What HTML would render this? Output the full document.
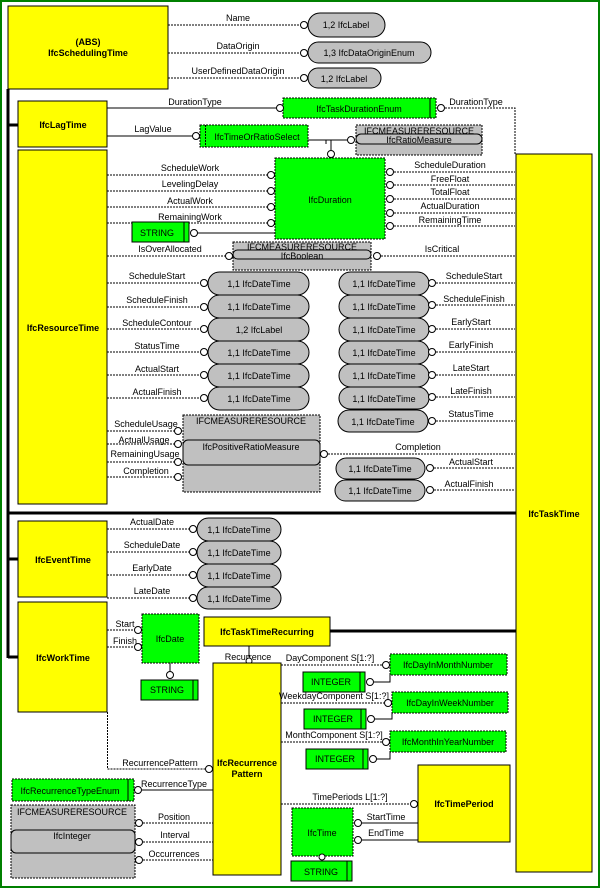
<!DOCTYPE html>
<html><head><meta charset="utf-8"><style>
html,body{margin:0;padding:0;background:#fff}
svg{display:block}
text{font-family:"Liberation Sans",Arial,sans-serif;font-size:9px;fill:#000}
.b{font-weight:bold}
.y{fill:#ffff00;stroke:#000;stroke-width:1}
.g{fill:#00ff00;stroke:#000;stroke-width:1;stroke-dasharray:2,1}
.gs{fill:#00ff00;stroke:#000;stroke-width:1}
.p{fill:#c0c0c0;stroke:#000;stroke-width:1}
.m{fill:#c0c0c0;stroke:#000;stroke-width:1;stroke-dasharray:2,1}
.d{stroke:#000;stroke-width:1;stroke-dasharray:2,1;fill:none}
.s{stroke:#000;stroke-width:1;fill:none}
.t{stroke:#000;stroke-width:3;fill:none}
circle{fill:#fff;stroke:#000;stroke-width:1}
</style></head><body>
<svg width="600" height="888" viewBox="0 0 600 888" xmlns="http://www.w3.org/2000/svg">
<rect x="1" y="1" width="598" height="886" fill="#fff" stroke="#008000" stroke-width="2"/>

<!-- thick inheritance tree -->
<path class="t" d="M8 89 V658"/>
<path class="t" d="M8 125 H18 M8 513 H516 M8 559 H18 M8 657 H18 M330 631 H516"/>

<!-- IfcSchedulingTime -->
<rect class="y" x="8" y="6" width="160" height="83"/>
<text class="b" x="88" y="45" text-anchor="middle">(ABS)</text>
<text class="b" x="88" y="56" text-anchor="middle">IfcSchedulingTime</text>
<path class="d" d="M168 25 H302 M168 53 H302 M168 78 H302"/>
<text x="238" y="21" text-anchor="middle">Name</text>
<text x="238" y="49" text-anchor="middle">DataOrigin</text>
<text x="238" y="74" text-anchor="middle">UserDefinedDataOrigin</text>
<rect class="p" x="308" y="13" width="77" height="24" rx="12"/><text x="346" y="28" text-anchor="middle">1,2 IfcLabel</text>
<rect class="p" x="308" y="42" width="123" height="21" rx="10.5"/><text x="369" y="56" text-anchor="middle">1,3 IfcDataOriginEnum</text>
<rect class="p" x="308" y="68" width="73" height="20" rx="10"/><text x="344" y="82" text-anchor="middle">1,2 IfcLabel</text>
<circle cx="304" cy="25" r="3.5"/><circle cx="304" cy="53" r="3.5"/><circle cx="304" cy="78" r="3.5"/>

<!-- IfcLagTime -->
<rect class="y" x="18" y="101" width="89" height="46"/>
<text class="b" x="63" y="128" text-anchor="middle">IfcLagTime</text>
<path class="s" d="M107 108 H277 M107 136 H193"/>
<text x="195" y="105" text-anchor="middle">DurationType</text>
<text x="153" y="132" text-anchor="middle">LagValue</text>
<rect class="g" x="283" y="98" width="153" height="20"/><path class="s" d="M430 98 V118"/>
<text x="359" y="112" text-anchor="middle">IfcTaskDurationEnum</text>
<circle cx="280" cy="108" r="3.5"/>
<path class="d" d="M445 108 H515 V154"/>
<circle cx="441" cy="108" r="3.5"/>
<text x="476" y="105" text-anchor="middle">DurationType</text>
<rect class="g" x="200" y="125" width="108" height="22"/><path class="d" d="M205.5 125 V147"/>
<text x="257" y="140" text-anchor="middle">IfcTimeOrRatioSelect</text>
<circle cx="196" cy="136" r="3.5"/>
<path class="s" d="M308 140 H347 M331 140 V150 M326 140 V144"/>
<rect class="m" x="356" y="125" width="126" height="30"/>
<text x="419" y="134" text-anchor="middle">IFCMEASURERESOURCE</text>
<rect class="p" x="356" y="134" width="126" height="10" rx="5"/>
<text x="419" y="143" text-anchor="middle">IfcRatioMeasure</text>
<circle cx="351" cy="140" r="3.5"/>
<circle cx="331" cy="154" r="3.5"/>

<!-- IfcDuration -->
<rect class="g" x="275" y="158" width="110" height="81"/>
<text x="330" y="203" text-anchor="middle">IfcDuration</text>
<path class="d" d="M107 175 H267 M107 191 H267 M107 207 H267 M107 223 H267"/>
<text x="190" y="171" text-anchor="middle">ScheduleWork</text>
<text x="190" y="187" text-anchor="middle">LevelingDelay</text>
<text x="190" y="204" text-anchor="middle">ActualWork</text>
<text x="190" y="220" text-anchor="middle">RemainingWork</text>
<circle cx="271" cy="175" r="3.5"/><circle cx="271" cy="191" r="3.5"/><circle cx="271" cy="207" r="3.5"/><circle cx="271" cy="223" r="3.5"/>
<rect class="gs" x="132" y="222" width="57" height="20"/><path class="s" d="M184 222 V242"/>
<text x="157" y="236" text-anchor="middle">STRING</text>
<path class="s" d="M197 233 H275"/><circle cx="194" cy="233" r="3.5"/>
<path class="d" d="M394 172 H515 M394 185 H515 M394 199 H515 M394 213 H515 M394 226 H515"/>
<circle cx="390" cy="172" r="3.5"/><circle cx="390" cy="185" r="3.5"/><circle cx="390" cy="199" r="3.5"/><circle cx="390" cy="213" r="3.5"/><circle cx="390" cy="226" r="3.5"/>
<text x="450" y="168" text-anchor="middle">ScheduleDuration</text>
<text x="450" y="182" text-anchor="middle">FreeFloat</text>
<text x="450" y="195" text-anchor="middle">TotalFloat</text>
<text x="450" y="209" text-anchor="middle">ActualDuration</text>
<text x="450" y="223" text-anchor="middle">RemainingTime</text>

<!-- IfcResourceTime -->
<rect class="y" x="18" y="150" width="89" height="354"/>
<text class="b" x="63" y="331" text-anchor="middle">IfcResourceTime</text>

<!-- IfcTaskTime -->
<rect class="y" x="516" y="154" width="76" height="718"/>
<text class="b" x="554" y="517" text-anchor="middle">IfcTaskTime</text>

<!-- IfcBoolean -->
<rect class="m" x="233" y="242" width="138" height="28"/>
<text x="302" y="250" text-anchor="middle">IFCMEASURERESOURCE</text>
<rect class="p" x="233" y="250" width="138" height="9" rx="4.5"/>
<text x="302" y="259" text-anchor="middle">IfcBoolean</text>
<path class="d" d="M107 256 H226 M381 256 H515"/>
<circle cx="229" cy="256" r="3.5"/><circle cx="377" cy="256" r="3.5"/>
<text x="170" y="252" text-anchor="middle">IsOverAllocated</text>
<text x="442" y="252" text-anchor="middle">IsCritical</text>

<!-- left datetime pills -->
<path class="d" d="M107 283 H200 M107 307 H200 M107 329 H200 M107 352 H200 M107 375 H200 M107 398 H200"/>
<text x="157" y="279" text-anchor="middle">ScheduleStart</text>
<text x="157" y="303" text-anchor="middle">ScheduleFinish</text>
<text x="157" y="326" text-anchor="middle">ScheduleContour</text>
<text x="157" y="349" text-anchor="middle">StatusTime</text>
<text x="157" y="372" text-anchor="middle">ActualStart</text>
<text x="157" y="395" text-anchor="middle">ActualFinish</text>
<rect class="p" x="208" y="272" width="101" height="23" rx="11.5"/><text x="259" y="287" text-anchor="middle">1,1 IfcDateTime</text>
<rect class="p" x="208" y="295" width="101" height="23" rx="11.5"/><text x="259" y="310" text-anchor="middle">1,1 IfcDateTime</text>
<rect class="p" x="208" y="318" width="101" height="23" rx="11.5"/><text x="259" y="333" text-anchor="middle">1,2 IfcLabel</text>
<rect class="p" x="208" y="341" width="101" height="23" rx="11.5"/><text x="259" y="356" text-anchor="middle">1,1 IfcDateTime</text>
<rect class="p" x="208" y="364" width="101" height="23" rx="11.5"/><text x="259" y="379" text-anchor="middle">1,1 IfcDateTime</text>
<rect class="p" x="208" y="387" width="101" height="23" rx="11.5"/><text x="259" y="402" text-anchor="middle">1,1 IfcDateTime</text>
<circle cx="204" cy="283" r="3.5"/><circle cx="204" cy="307" r="3.5"/><circle cx="204" cy="329" r="3.5"/><circle cx="204" cy="352" r="3.5"/><circle cx="204" cy="375" r="3.5"/><circle cx="204" cy="398" r="3.5"/>

<!-- right datetime pills -->
<path class="d" d="M436 283 H515 M436 305 H515 M436 329 H515 M436 352 H515 M436 375 H515 M436 397 H515 M436 421 H515"/>
<text x="474" y="279" text-anchor="middle">ScheduleStart</text>
<text x="474" y="302" text-anchor="middle">ScheduleFinish</text>
<text x="471" y="325" text-anchor="middle">EarlyStart</text>
<text x="471" y="348" text-anchor="middle">EarlyFinish</text>
<text x="471" y="371" text-anchor="middle">LateStart</text>
<text x="471" y="394" text-anchor="middle">LateFinish</text>
<text x="471" y="417" text-anchor="middle">StatusTime</text>
<rect class="p" x="339" y="272" width="90" height="23" rx="11.5"/><text x="384" y="287" text-anchor="middle">1,1 IfcDateTime</text>
<rect class="p" x="339" y="295" width="90" height="23" rx="11.5"/><text x="384" y="310" text-anchor="middle">1,1 IfcDateTime</text>
<rect class="p" x="339" y="318" width="90" height="23" rx="11.5"/><text x="384" y="333" text-anchor="middle">1,1 IfcDateTime</text>
<rect class="p" x="339" y="341" width="90" height="23" rx="11.5"/><text x="384" y="356" text-anchor="middle">1,1 IfcDateTime</text>
<rect class="p" x="339" y="364" width="90" height="23" rx="11.5"/><text x="384" y="379" text-anchor="middle">1,1 IfcDateTime</text>
<rect class="p" x="339" y="387" width="90" height="22" rx="11"/><text x="384" y="402" text-anchor="middle">1,1 IfcDateTime</text>
<rect class="p" x="338" y="410" width="90" height="22" rx="11"/><text x="383" y="425" text-anchor="middle">1,1 IfcDateTime</text>
<circle cx="432" cy="283" r="3.5"/><circle cx="432" cy="305" r="3.5"/><circle cx="432" cy="329" r="3.5"/><circle cx="432" cy="352" r="3.5"/><circle cx="432" cy="375" r="3.5"/><circle cx="432" cy="397" r="3.5"/><circle cx="432" cy="421" r="3.5"/>

<!-- IfcPositiveRatioMeasure -->
<rect class="m" x="183" y="415" width="137" height="77"/>
<text x="251" y="424" text-anchor="middle">IFCMEASURERESOURCE</text>
<rect class="p" x="183" y="440" width="137" height="25" rx="5"/>
<text x="251" y="450" text-anchor="middle">IfcPositiveRatioMeasure</text>
<path class="d" d="M107 431 H175 M107 444 H175 M107 462 H175 M107 477 H175"/>
<circle cx="178" cy="431" r="3.5"/><circle cx="178" cy="444" r="3.5"/><circle cx="178" cy="462" r="3.5"/><circle cx="178" cy="477" r="3.5"/>
<text x="146" y="427" text-anchor="middle">ScheduleUsage</text>
<text x="144" y="443" text-anchor="middle">ActualUsage</text>
<text x="145" y="457" text-anchor="middle">RemainingUsage</text>
<text x="146" y="474" text-anchor="middle">Completion</text>
<path class="d" d="M328 454 H515"/><circle cx="324" cy="454" r="3.5"/>
<text x="418" y="450" text-anchor="middle">Completion</text>
<rect class="p" x="336" y="458" width="89" height="21" rx="10.5"/><text x="380" y="472" text-anchor="middle">1,1 IfcDateTime</text>
<rect class="p" x="335" y="480" width="90" height="21" rx="10.5"/><text x="380" y="494" text-anchor="middle">1,1 IfcDateTime</text>
<path class="d" d="M434 468 H515 M434 490 H515"/>
<circle cx="430" cy="468" r="3.5"/><circle cx="430" cy="490" r="3.5"/>
<text x="471" y="465" text-anchor="middle">ActualStart</text>
<text x="469" y="487" text-anchor="middle">ActualFinish</text>

<!-- IfcEventTime -->
<rect class="y" x="18" y="521" width="89" height="76"/>
<text class="b" x="63" y="563" text-anchor="middle">IfcEventTime</text>
<path class="d" d="M107 529 H189 M107 552 H189 M107 575 H189 M107 598 H189"/>
<text x="152" y="525" text-anchor="middle">ActualDate</text>
<text x="152" y="548" text-anchor="middle">ScheduleDate</text>
<text x="152" y="571" text-anchor="middle">EarlyDate</text>
<text x="152" y="594" text-anchor="middle">LateDate</text>
<rect class="p" x="197" y="518" width="84" height="23" rx="11.5"/><text x="239" y="533" text-anchor="middle">1,1 IfcDateTime</text>
<rect class="p" x="197" y="541" width="84" height="23" rx="11.5"/><text x="239" y="556" text-anchor="middle">1,1 IfcDateTime</text>
<rect class="p" x="197" y="564" width="84" height="23" rx="11.5"/><text x="239" y="579" text-anchor="middle">1,1 IfcDateTime</text>
<rect class="p" x="197" y="587" width="84" height="22" rx="11"/><text x="239" y="602" text-anchor="middle">1,1 IfcDateTime</text>
<circle cx="193" cy="529" r="3.5"/><circle cx="193" cy="552" r="3.5"/><circle cx="193" cy="575" r="3.5"/><circle cx="193" cy="598" r="3.5"/>

<!-- IfcWorkTime -->
<rect class="y" x="18" y="602" width="89" height="110"/>
<text class="b" x="63" y="661" text-anchor="middle">IfcWorkTime</text>
<path class="d" d="M107 630 H135 M107 647 H135"/>
<text x="125" y="627" text-anchor="middle">Start</text>
<text x="125" y="644" text-anchor="middle">Finish</text>
<rect class="g" x="142" y="614" width="57" height="49"/>
<text x="170" y="642" text-anchor="middle">IfcDate</text>
<circle cx="138" cy="630" r="3.5"/><circle cx="138" cy="647" r="3.5"/>
<path class="s" d="M170 663 V671"/><circle cx="170" cy="675" r="3.5"/>
<rect class="gs" x="141" y="680" width="57" height="20"/><path class="s" d="M193 680 V700"/>
<text x="167" y="693" text-anchor="middle">STRING</text>

<!-- IfcTaskTimeRecurring -->
<rect class="y" x="204" y="617" width="126" height="29"/>
<text class="b" x="267" y="635" text-anchor="middle">IfcTaskTimeRecurring</text>
<path class="s" d="M249 646 V657"/>
<text x="248" y="660" text-anchor="middle">Recurrence</text>
<circle cx="249" cy="661" r="3"/>

<!-- IfcRecurrencePattern -->
<rect class="y" x="213" y="663" width="68" height="212"/>
<text class="b" x="247" y="766" text-anchor="middle">IfcRecurrence</text>
<text class="b" x="247" y="777" text-anchor="middle">Pattern</text>

<path class="d" d="M281 665 H383 M281 703 H384 M281 742 H383"/>
<text x="330" y="661" text-anchor="middle">DayComponent S[1:?]</text>
<text x="334" y="699" text-anchor="middle">WeekdayComponent S[1:?]</text>
<text x="334" y="738" text-anchor="middle">MonthComponent S[1:?]</text>
<circle cx="386" cy="665" r="3.5"/><circle cx="388" cy="703" r="3.5"/><circle cx="386" cy="742" r="3.5"/>
<rect class="g" x="390" y="654" width="117" height="21"/><text x="448" y="668" text-anchor="middle">IfcDayInMonthNumber</text>
<rect class="g" x="392" y="692" width="116" height="21"/><text x="450" y="706" text-anchor="middle">IfcDayInWeekNumber</text>
<rect class="g" x="390" y="731" width="116" height="21"/><text x="448" y="745" text-anchor="middle">IfcMonthInYearNumber</text>
<rect class="gs" x="303" y="672" width="62" height="20"/><path class="s" d="M360 672 V692"/><text x="331" y="685" text-anchor="middle">INTEGER</text>
<rect class="gs" x="304" y="709" width="62" height="20"/><path class="s" d="M361 709 V729"/><text x="333" y="722" text-anchor="middle">INTEGER</text>
<rect class="gs" x="306" y="749" width="62" height="20"/><path class="s" d="M363 749 V769"/><text x="335" y="762" text-anchor="middle">INTEGER</text>
<path class="s" d="M374 682 H390 V675 M375 719 H392 V713 M376 759 H390 V752"/>
<circle cx="370" cy="682" r="3.5"/><circle cx="371" cy="719" r="3.5"/><circle cx="373" cy="759" r="3.5"/>

<!-- RecurrencePattern -->
<path class="d" d="M107.5 712 V769 H205"/>
<circle cx="209" cy="769" r="3.5"/>
<text x="160" y="766" text-anchor="middle">RecurrencePattern</text>

<!-- IfcRecurrenceTypeEnum -->
<rect class="g" x="12" y="779" width="122" height="22"/><path class="s" d="M128 779 V801"/>
<text x="70" y="794" text-anchor="middle">IfcRecurrenceTypeEnum</text>
<path class="s" d="M142 790 H213"/><circle cx="138" cy="790" r="3.5"/>
<text x="174" y="787" text-anchor="middle">RecurrenceType</text>

<!-- IfcInteger -->
<rect class="m" x="11" y="805" width="124" height="73"/>
<text x="72" y="815" text-anchor="middle">IFCMEASURERESOURCE</text>
<rect class="p" x="11" y="830" width="124" height="23" rx="5"/>
<text x="72" y="839" text-anchor="middle">IfcInteger</text>
<path class="d" d="M143 823 H213 M143 842 H213 M143 860 H213"/>
<circle cx="139" cy="823" r="3.5"/><circle cx="139" cy="842" r="3.5"/><circle cx="139" cy="860" r="3.5"/>
<text x="174" y="820" text-anchor="middle">Position</text>
<text x="175" y="838" text-anchor="middle">Interval</text>
<text x="174" y="857" text-anchor="middle">Occurrences</text>

<!-- TimePeriods -->
<path class="d" d="M281 804 H410"/><circle cx="414" cy="804" r="3.5"/>
<text x="350" y="800" text-anchor="middle">TimePeriods L[1:?]</text>
<rect class="y" x="418" y="765" width="92" height="77"/>
<text class="b" x="464" y="807" text-anchor="middle">IfcTimePeriod</text>
<rect class="g" x="292" y="808" width="61" height="48"/>
<text x="322" y="836" text-anchor="middle">IfcTime</text>
<path class="s" d="M362 823 H418 M362 840 H418"/>
<circle cx="358" cy="823" r="3.5"/><circle cx="358" cy="840" r="3.5"/>
<text x="386" y="820" text-anchor="middle">StartTime</text>
<text x="386" y="836" text-anchor="middle">EndTime</text>
<circle cx="322" cy="857" r="3"/>
<rect class="gs" x="291" y="861" width="61" height="20"/><path class="s" d="M347 861 V881"/>
<text x="321" y="875" text-anchor="middle">STRING</text>
</svg>
</body></html>
